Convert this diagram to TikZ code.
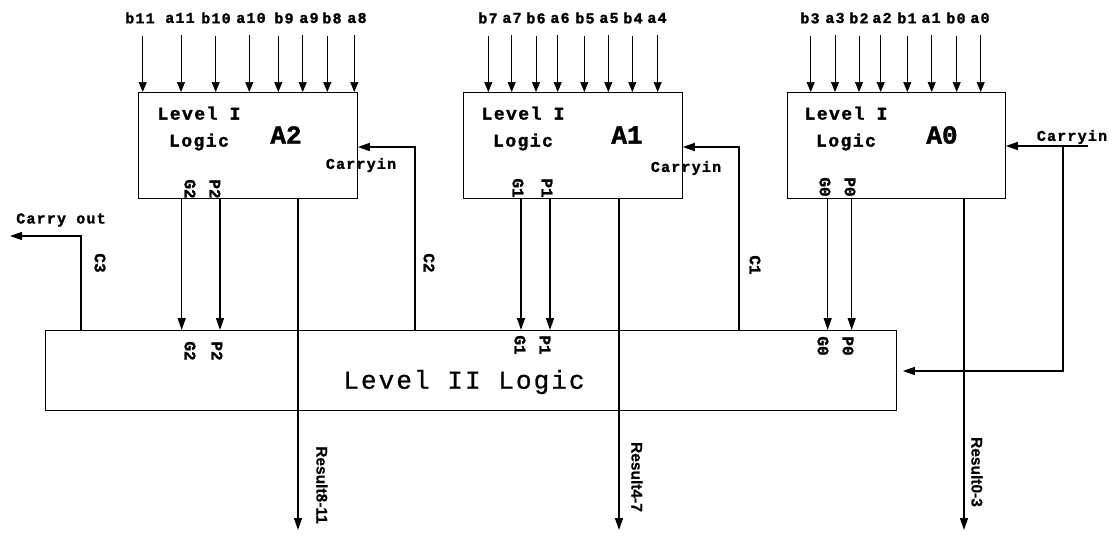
\documentclass[tikz,border=0pt]{standalone}
\usepackage{fontspec}
\usetikzlibrary{arrows.meta}
\newfontfamily\mfw[LetterSpace=8, FakeBold=1.5]{Liberation Mono}
\newfontfamily\mfn[FakeBold=1.5]{Liberation Mono}
\newfontfamily\mfl[LetterSpace=8, FakeBold=0.8]{Liberation Mono}
\newfontfamily\rsf[FakeBold=0.5]{Liberation Sans}
\tikzset{
  blk/.style={draw, line width=0.8pt, minimum width=219pt, minimum height=106pt, anchor=north west, inner sep=0pt},
  lvtwo/.style={draw, line width=0.8pt, minimum width=851pt, minimum height=80pt, anchor=north west, inner sep=0pt},
  inlbl/.style={font=\mfw\bfseries\fontsize{15}{15}\selectfont, inner sep=0pt},
  inarr/.style={line width=0.7pt, -{Triangle[length=10pt,width=8pt]}},
  arr/.style={line width=1.4pt, -{Triangle[length=12pt,width=8pt]}},
  lvone/.style={font=\mfw\bfseries\fontsize{18}{27}\selectfont, align=center, inner sep=0pt},
  aname/.style={font=\mfn\bfseries\fontsize{26}{26}\selectfont, inner sep=0pt},
  cin/.style={font=\mfw\bfseries\fontsize{15}{15}\selectfont, inner sep=0pt},
  rot/.style={font=\mfn\bfseries\fontsize{16}{16}\selectfont, rotate=-90, inner sep=0pt},
  res/.style={font=\rsf\bfseries\fontsize{15.5}{16}\selectfont, rotate=-90, inner sep=0pt},
  big/.style={font=\mfl\fontsize{26}{26}\selectfont, inner sep=0pt}
}
\begin{document}
\begin{tikzpicture}[x=1pt,y=-1pt]
\useasboundingbox (0,0) rectangle (1114,536);
% boxes
\node[blk] (A2) at (138,92) {};
\node[blk] (A1) at (463,92) {};
\node[blk, minimum width=218pt] (A0) at (787,92) {};
\node[lvtwo] (L2) at (45,330) {};
% inputs
\foreach \x/\lx/\t [count=\i] in {142.7/140/b11, 181/180/a11, 215.7/216/b10, 249.3/251/a10, 278.3/284/b9, 302.7/309/a9, 327.3/332/b8, 354.3/357/a8}{
  \node[inlbl] (i2-\i) at (\lx,18) {\t};
  \draw[inarr] (i2-\i.south -| \x,0) ++(0,12) -- (A2.north -| \x,0);
}
\foreach \x/\lx/\t [count=\i] in {488.3/488/b7, 511.7/512/a7, 536/536/b6, 557.7/560/a6, 584.3/585/b5, 608.3/609/a5, 632.3/633/b4, 657.7/657/a4}{
  \node[inlbl] (i1-\i) at (\lx,18) {\t};
  \draw[inarr] (i1-\i.south -| \x,0) ++(0,12) -- (A1.north -| \x,0);
}
\foreach \x/\lx/\t [count=\i] in {810.7/810/b3, 835/835/a3, 859/859/b2, 880.7/882/a2, 907.3/907/b1, 931.7/931/a1, 956.7/956/b0, 980.7/980/a0}{
  \node[inlbl] (i0-\i) at (\lx,18) {\t};
  \draw[inarr] (i0-\i.south -| \x,0) ++(0,12) -- (A0.north -| \x,0);
}
% texts inside level I boxes
\node[lvone] (t2) at (199,128.5) {Level I\\Logic};
\node[lvone] (t1) at (523,128.5) {Level I\\Logic};
\node[lvone] (t0) at (846,128.5) {Level I\\Logic};
\node[aname] (n2) at (286,135) {A2};
\node[aname] (n1) at (627,135) {A1};
\node[aname] (n0) at (942,135) {A0};
\node[cin] (ci2) at (361,165) {Carryin};
\node[cin] (ci1) at (686,168) {Carryin};
\node[cin] (ci0) at (1072,137) {Carryin};
% G/P labels
\node[rot] (g2a) at (190,189) {G2};
\node[rot] (p2a) at (215,189) {P2};
\node[rot] (g1a) at (518,188) {G1};
\node[rot] (p1a) at (547,188) {P1};
\node[rot] (g0a) at (825,187) {G0};
\node[rot] (p0a) at (850,187) {P0};
\node[rot] (g2b) at (190,351) {G2};
\node[rot] (p2b) at (217,351) {P2};
\node[rot] (g1b) at (520,345) {G1};
\node[rot] (p1b) at (545,345) {P1};
\node[rot] (g0b) at (823,346) {G0};
\node[rot] (p0b) at (848,346) {P0};
% G/P arrows
\draw[arr] (A2.south -| 181.7,0) -- (L2.north -| 181.7,0);
\draw[arr] (A2.south -| 220,0) -- (L2.north -| 220,0);
\draw[arr] (A1.south -| 521,0) -- (L2.north -| 521,0);
\draw[arr] (A1.south -| 550,0) -- (L2.north -| 550,0);
\draw[arr] (A0.south -| 827.7,0) -- (L2.north -| 827.7,0);
\draw[arr] (A0.south -| 851.7,0) -- (L2.north -| 851.7,0);
% carries between levels
\coordinate (c2) at (415,147);
\coordinate (c1) at (739,147);
\draw[arr] (L2.north -| c2) -- (c2) -- (c2 -| A2.east);
\draw[arr] (L2.north -| c1) -- (c1) -- (c1 -| A1.east);
\node[rot] (c2l) at (429,263) {C2};
\node[rot] (c1l) at (755,265) {C1};
% carry out
\coordinate (c3) at (81,236);
\coordinate (co) at (10,236);
\draw[arr] (L2.north -| c3) -- (c3) -- (co);
\node[rot] (c3l) at (100,263) {C3};
\node[cin] (col) at (61,220) {Carry out};
% carry in
\coordinate (cinr) at (1088,146);
\coordinate (cinv) at (1063,146);
\coordinate (cinb) at (1063,371);
\draw[arr] (cinr) -- (cinr -| A0.east);
\draw[arr, shorten >=6pt] (cinv) -- (cinb) -- (cinb -| L2.east);
% results
\coordinate (r2) at (298,530);
\coordinate (r1) at (619,530);
\coordinate (r0) at (964,530);
\draw[arr] (A2.south -| r2) -- (r2);
\draw[arr] (A1.south -| r1) -- (r1);
\draw[arr] (A0.south -| r0) -- (r0);
\node[res] (r2l) at (322,485) {Result8-11};
\node[res] (r1l) at (637,477) {Result4-7};
\node[res] (r0l) at (977,472) {Result0-3};
% level II text
\node[big] (l2t) at (464,382) {Level II Logic};
\end{tikzpicture}
\end{document}
